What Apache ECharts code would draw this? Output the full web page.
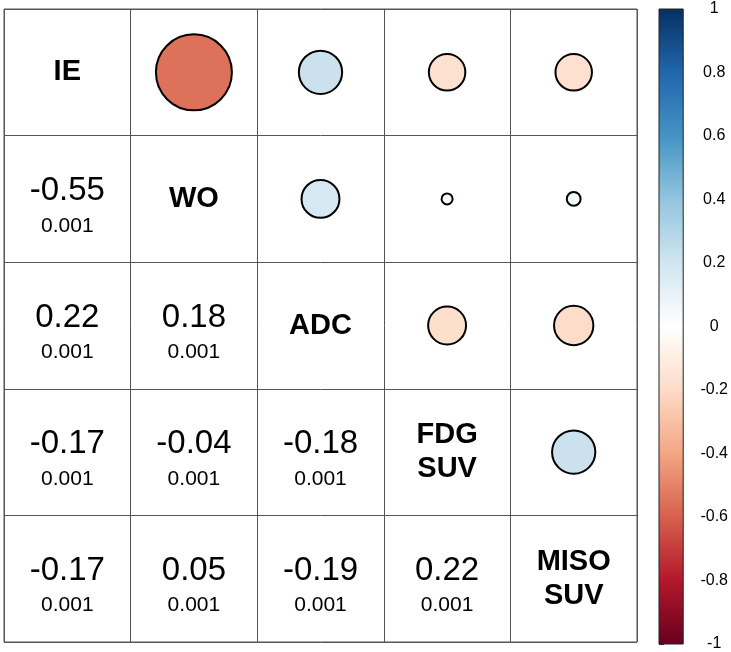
<!DOCTYPE html>
<html>
<head>
<meta charset="utf-8">
<script src="https://cdn.jsdelivr.net/npm/echarts@6/dist/echarts.min.js"></script>
<style>
  html, body { margin: 0; padding: 0; background: #fff; }
  #main { width: 731px; height: 652px; }
</style>
</head>
<body>
<div id="main"></div>
<script>
// variables (diagonal)
var vars = ['IE', 'WO', 'ADC', 'FDG\nSUV', 'MISO\nSUV'];
// correlation matrix, row by row
var rowIE   = [1, -0.55, 0.22, -0.17, -0.17];
var rowWO   = [-0.55, 1, 0.18, -0.04, 0.05];
var rowADC  = [0.22, 0.18, 1, -0.18, -0.19];
var rowFDG  = [-0.17, -0.04, -0.18, 1, 0.22];
var rowMISO = [-0.17, 0.05, -0.19, 0.22, 1];
var corr = [rowIE, rowWO, rowADC, rowFDG, rowMISO];
// p values shown under the coefficients
var pText = '0.001';
// colour bar ticks
var barTicks = [-1, -0.8, -0.6, -0.4, -0.2, 0, 0.2, 0.4, 0.6, 0.8, 1];
var palette = ['#67001F', '#B2182B', '#D6604D', '#F4A582', '#FDDBC7', '#FFFFFF',
               '#D1E5F0', '#92C5DE', '#4393C3', '#2166AC', '#053061'];

var font = 'Liberation Sans, Arial, Helvetica, sans-serif';
var idx = vars.map(function (v, i) { return i; });

var circles = [], numbers = [], diag = [];
for (var i = 0; i < vars.length; i++) {
  for (var j = 0; j < vars.length; j++) {
    if (j > i) circles.push([j, i, corr[i][j]]);
    else if (j < i) numbers.push([j, i, corr[i][j]]);
    else diag.push([j, i, vars[i]]);
  }
}

var myChart = echarts.init(document.getElementById('main'));

var gradStops = palette.map(function (c, k) {
  return { offset: 1 - k / (palette.length - 1), color: c };
});

var option = {
  animation: false,
  textStyle: { fontFamily: font },
  grid: [
    { left: 4, top: 9, width: 633, height: 633, show: true, borderColor: '#555', borderWidth: 1 },
    { left: 659, top: 9, width: 25, height: 635 }
  ],
  xAxis: [
    {
      gridIndex: 0, type: 'category', data: idx, boundaryGap: true,
      axisLine: { show: false }, axisTick: { show: false }, axisLabel: { show: false },
      splitLine: { show: true, lineStyle: { color: '#555', width: 1 } }
    },
    {
      gridIndex: 1, type: 'value', min: 0, max: 1, show: false
    }
  ],
  yAxis: [
    {
      gridIndex: 0, type: 'category', data: idx, inverse: true, boundaryGap: true,
      axisLine: { show: false }, axisTick: { show: false }, axisLabel: { show: false },
      splitLine: { show: true, lineStyle: { color: '#555', width: 1 } }
    },
    {
      gridIndex: 1, type: 'value', position: 'right', min: barTicks[0], max: barTicks[barTicks.length - 1], interval: 0.2,
      axisLine: { show: false },
      axisTick: { show: true, length: 5, lineStyle: { color: '#333' } },
      axisLabel: { show: true, align: 'center', margin: 31, fontSize: 16, color: '#000',
        formatter: function (v) { return String(Math.round(v * 10) / 10); } },
      splitLine: { show: false }
    }
  ],
  visualMap: {
    show: false, type: 'continuous', min: -1, max: 1, dimension: 2,
    seriesIndex: 0, inRange: { color: palette }
  },
  series: [
    {
      type: 'scatter', xAxisIndex: 0, yAxisIndex: 0, data: circles,
      symbol: 'circle',
      symbolSize: function (d) { return 120 * Math.sqrt(Math.abs(d[2])) - 13; },
      itemStyle: { borderColor: '#000', borderWidth: 2, opacity: 1 }
    },
    {
      type: 'scatter', xAxisIndex: 0, yAxisIndex: 0, data: numbers,
      symbolSize: 0, silent: true, itemStyle: { opacity: 1 },
      label: {
        show: true, position: 'inside', offset: [0, 7],
        formatter: function (p) { return '{a|' + p.value[2].toFixed(2) + '}\n{b|' + pText + '}'; },
        rich: {
          a: { fontSize: 33, lineHeight: 40, color: '#000', fontFamily: font },
          b: { fontSize: 21, lineHeight: 30, color: '#000', fontFamily: font }
        }
      }
    },
    {
      type: 'scatter', xAxisIndex: 0, yAxisIndex: 0, data: diag,
      symbolSize: 0, silent: true, itemStyle: { opacity: 1 },
      label: {
        show: true, position: 'inside',
        formatter: function (p) { return p.value[2]; },
        fontSize: 29, fontWeight: 'bold', lineHeight: 34, color: '#000', fontFamily: font
      }
    },
    {
      type: 'custom', xAxisIndex: 1, yAxisIndex: 1, silent: true,
      data: [[0, -1, 1]],
      renderItem: function (params, api) {
        var p0 = api.coord([0, api.value(2)]);
        var p1 = api.coord([1, api.value(1)]);
        return {
          type: 'rect',
          shape: { x: p0[0], y: p0[1], width: p1[0] - p0[0], height: p1[1] - p0[1] },
          style: {
            fill: new echarts.graphic.LinearGradient(0, 0, 0, 1, gradStops),
            stroke: '#222', lineWidth: 1
          }
        };
      }
    }
  ]
};

myChart.setOption(option);
window.onresize = function () {
  myChart.resize();
};
</script>
</body>
</html>
